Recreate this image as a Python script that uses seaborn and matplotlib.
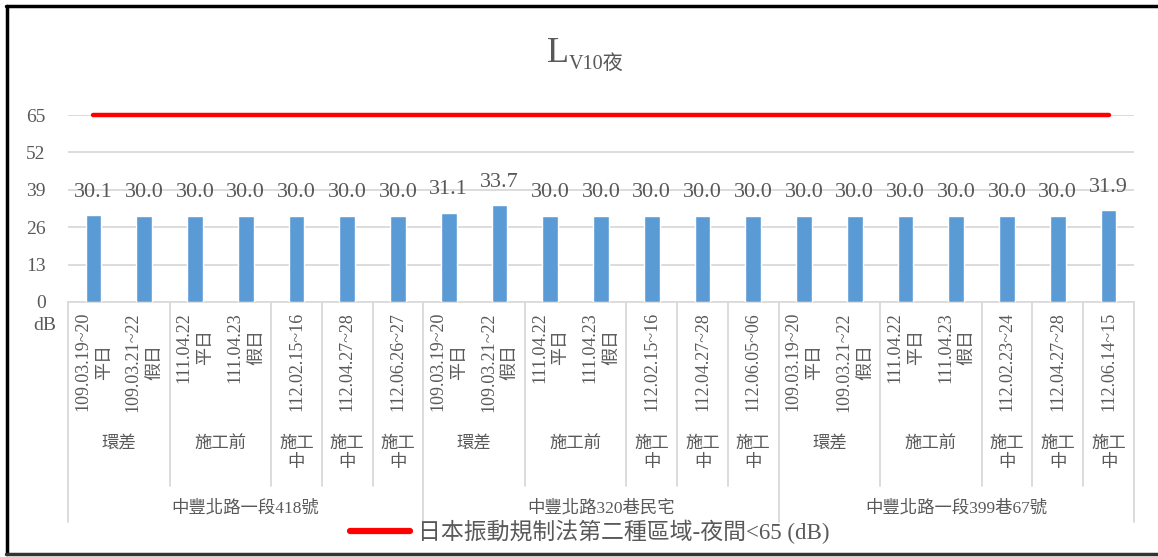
import numpy as np
import pandas as pd
import matplotlib
matplotlib.use("Agg")
import matplotlib.pyplot as plt
import matplotlib.transforms as mtransforms
from matplotlib.lines import Line2D
import seaborn as sns

# ---------------- data ----------------
locations = ["中豐北路一段418號", "中豐北路320巷民宅", "中豐北路一段399巷67號"]
phases = ["環差", "施工前", "施工\n中", "施工\n中", "施工\n中"]
phase_sizes = [2, 2, 1, 1, 1]
dates_loc1 = ["109.03.19~20\n平日", "109.03.21~22\n假日", "111.04.22\n平日", "111.04.23\n假日",
              "112.02.15~16", "112.04.27~28", "112.06.26~27"]
dates_loc2 = ["109.03.19~20\n平日", "109.03.21~22\n假日", "111.04.22\n平日", "111.04.23\n假日",
              "112.02.15~16", "112.04.27~28", "112.06.05~06"]
dates_loc3 = ["109.03.19~20\n平日", "109.03.21~22\n假日", "111.04.22\n平日", "111.04.23\n假日",
              "112.02.23~24", "112.04.27~28", "112.06.14~15"]
values_loc1 = [30.1, 30.0, 30.0, 30.0, 30.0, 30.0, 30.0]
values_loc2 = [31.1, 33.7, 30.0, 30.0, 30.0, 30.0, 30.0]
values_loc3 = [30.0, 30.0, 30.0, 30.0, 30.0, 30.0, 31.9]
limit_value = 65
limit_label = "日本振動規制法第二種區域-夜間<65 (dB)"
y_ticks = [0, 13, 26, 39, 52, 65]

# ---------------- style ----------------
sns.set_theme(style="white")
plt.rcParams['font.family'] = ['Liberation Serif', 'Noto Sans CJK TC', 'DejaVu Sans']
TXT = "#595959"
GRID = "#D9D9D9"
BAR = "#5B9BD5"

dates = dates_loc1 + dates_loc2 + dates_loc3
values = values_loc1 + values_loc2 + values_loc3
n = len(values)
df = pd.DataFrame({"idx": [str(i) for i in range(n)], "value": values})

W, H = 1158, 557
fig = plt.figure(figsize=(W / 100, H / 100), dpi=100)
ax_left, ax_right, ax_top, ax_bot = 68, 1134, 115, 302
ax = fig.add_axes([ax_left / W, 1 - ax_bot / H, (ax_right - ax_left) / W, (ax_bot - ax_top) / H])

sns.barplot(data=df, x="idx", y="value", color=BAR, width=0.31, saturation=1, ax=ax, zorder=3)
sns.lineplot(x=np.arange(n), y=[limit_value] * n, color="#FF0000", linewidth=3.2, ax=ax,
             zorder=4, clip_on=False)

ax.set_xlim(-0.5, n - 0.5)
ax.set_ylim(0, 65)
ax.set_yticks(y_ticks)
ax.set_yticklabels([str(t) for t in y_ticks], fontsize=14, color=TXT)
ax.tick_params(axis="y", length=0, pad=16)
ax.set_xticks([])
ax.set_xlabel("")
ax.set_ylabel("")
for s in ["top", "right", "left"]:
    ax.spines[s].set_visible(False)
ax.spines["bottom"].set_color(GRID)
ax.spines["bottom"].set_linewidth(1.2)
ax.yaxis.grid(True, color=GRID, linewidth=1.3, zorder=0)
ax.set_axisbelow(True)

# value labels
for i, v in enumerate(values):
    ax.annotate(f"{v:.1f}", (i, v), xytext=(0, 16.5), textcoords="offset points",
                ha="center", va="center", fontsize=16, color=TXT)

# ---------------- multi-level category axis ----------------
ph = ax_bot - ax_top
def ay(py):
    return -(py - ax_bot) / ph

trans = mtransforms.blended_transform_factory(ax.transData, ax.transAxes)

for i, d in enumerate(dates):
    ax.text(i, ay(312), d, rotation=90, ha="center", va="top", multialignment="center",
            fontsize=13, color=TXT, transform=trans, linespacing=1.35)

group_size = len(dates_loc1)
start = 0
for gi, loc in enumerate(locations):
    ax.text(start + group_size / 2 - 0.5, ay(508), loc, ha="center", va="center",
            fontsize=12.5, color=TXT, transform=trans)
    p = start
    for k, (phase, sz) in enumerate(zip(phases, phase_sizes)):
        ax.text(p + sz / 2 - 0.5, ay(436), phase, ha="center", va="top", fontsize=12.5,
                color=TXT, transform=trans, linespacing=1.25)
        if k > 0:
            ax.plot([p - 0.5, p - 0.5], [0, ay(486)], color=GRID, lw=1.3, transform=trans,
                    clip_on=False)
        p += sz
    start += group_size

for b in range(len(locations) + 1):
    xb = b * group_size - 0.5
    ax.plot([xb, xb], [0, ay(522)], color=GRID, lw=1.3, transform=trans, clip_on=False)

# dB label
fig.text(45 / W, 1 - 326 / H, "dB", ha="center", va="center", fontsize=14, color=TXT)

# title
fig.text(569 / W, 1 - 62 / H, "L", ha="right", va="baseline", fontsize=26, color=TXT)
fig.text(569 / W, 1 - 69 / H, "V10夜", ha="left", va="baseline", fontsize=14.5, color=TXT)

# legend
handle = Line2D([0], [0], color="#FF0000", linewidth=4.5)
fig.legend([handle], [limit_label], loc="center", bbox_to_anchor=(590 / W, 1 - 532 / H),
           frameon=False, fontsize=16.5, handlelength=2.6, handletextpad=0.35,
           labelcolor=TXT)

# outer border (left, top, bottom)
fig.add_artist(Line2D([7 / W, 7 / W], [1 - 6 / H, 1 - 554 / H], color="black", lw=2.5,
                      transform=fig.transFigure))
fig.add_artist(Line2D([6 / W, 1.0], [1 - 6 / H, 1 - 6 / H], color="black", lw=2.5,
                      transform=fig.transFigure))
fig.add_artist(Line2D([6 / W, 1.0], [1 - 554 / H, 1 - 554 / H], color="#333333", lw=2.5,
                      transform=fig.transFigure))

fig.savefig("out.png", dpi=100)
